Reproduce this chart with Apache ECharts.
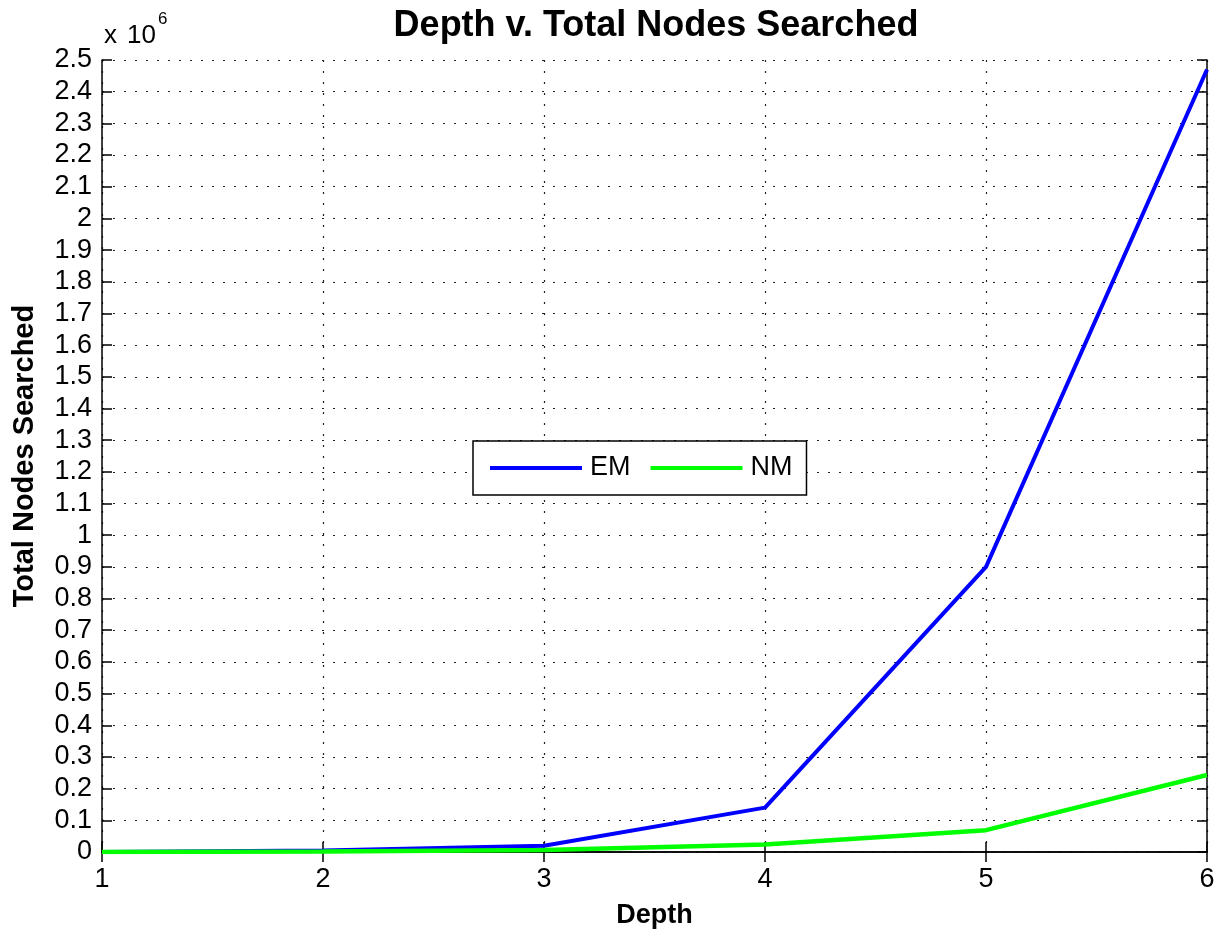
<!DOCTYPE html>
<html>
<head>
<meta charset="utf-8">
<script src="https://cdn.jsdelivr.net/npm/echarts@6/dist/echarts.min.js"></script>
<style>
html,body{margin:0;padding:0;background:#fff;}
#chart{width:1225px;height:935px;}
</style>
</head>
<body>
<div id="chart"></div>
<script>
// Data
var depths = [1, 2, 3, 4, 5, 6];
var emNodes = [30, 5000, 20000, 140000, 900000, 2470000];
var nmNodes = [10, 1500, 6000, 24000, 69000, 243000];
var seriesNames = ['EM', 'NM'];
var titleText = 'Depth v. Total Nodes Searched';
var xName = 'Depth';
var yName = 'Total Nodes Searched';

var FONT = '"Liberation Sans", Arial, Helvetica, sans-serif';
var chart = echarts.init(document.getElementById('chart'));

function pairs(xs, ys) { return xs.map(function (x, i) { return [x, ys[i]]; }); }

var splitStyle = { show: true, lineStyle: { color: '#222', width: 1.2, type: [2, 9] } };
var axisLineStyle = { show: true, lineStyle: { color: '#000', width: 1.5 } };
var tickStyle = { show: true, inside: true, length: 10, lineStyle: { color: '#000', width: 1.5 } };

var option = {
  backgroundColor: '#fff',
  animation: false,
  title: {
    text: titleText,
    left: 651, top: 3, textAlign: 'center',
    textStyle: { fontFamily: FONT, fontSize: 36, fontWeight: 'bold', color: '#000' }
  },
  grid: { left: 102, right: 18, top: 60, bottom: 83, containLabel: false, outerBoundsMode: 'none' },
  legend: {
    data: seriesNames,
    left: 473, top: 441,
    orient: 'horizontal',
    icon: 'rect',
    itemWidth: 92, itemHeight: 4, itemGap: 20,
    padding: [12, 14, 12, 17],
    borderColor: '#000', borderWidth: 1.5,
    backgroundColor: '#fff',
    textStyle: { fontFamily: FONT, fontSize: 27, color: '#000', lineHeight: 30, padding: [0, 0, 0, 3] }
  },
  xAxis: [{
    type: 'value', min: 1, max: 6, interval: 1,
    name: xName, nameLocation: 'middle', nameGap: 50,
    nameTextStyle: { fontFamily: FONT, fontSize: 27, fontWeight: 'bold', color: '#000' },
    axisLine: axisLineStyle, axisTick: tickStyle,
    axisLabel: { fontFamily: FONT, fontSize: 27, color: '#000', margin: 14 },
    splitLine: splitStyle
  }, {
    type: 'value', min: 1, max: 6, interval: 1, position: 'top',
    axisLine: axisLineStyle, axisTick: tickStyle,
    axisLabel: { show: false }, splitLine: { show: false }
  }],
  yAxis: [{
    type: 'value', min: 0, max: 2500000, interval: 100000,
    name: yName, nameLocation: 'middle', nameGap: 63, nameRotate: 90,
    nameTextStyle: { fontFamily: FONT, fontSize: 29, fontWeight: 'bold', color: '#000' },
    axisLine: axisLineStyle, axisTick: tickStyle,
    axisLabel: {
      fontFamily: FONT, fontSize: 27, color: '#000', margin: 10,
      formatter: function (v) { return String(Number((v / 1e6).toFixed(1))); }
    },
    splitLine: splitStyle
  }, {
    type: 'value', min: 0, max: 2500000, interval: 100000, position: 'right',
    axisLine: axisLineStyle, axisTick: tickStyle,
    axisLabel: { show: false }, splitLine: { show: false }
  }],
  graphic: [
    { type: 'text', left: 104, top: 23, style: { text: 'x', font: '26px ' + FONT, fill: '#000' } },
    { type: 'text', left: 127, top: 23, style: { text: '10', font: '26px ' + FONT, fill: '#000' } },
    { type: 'text', left: 158, top: 11, style: { text: '6', font: '17px ' + FONT, fill: '#000' } }
  ],
  series: [{
    name: seriesNames[0], type: 'line', xAxisIndex: 0, yAxisIndex: 0,
    data: pairs(depths, emNodes), symbol: 'none', z: 3,
    lineStyle: { color: '#0000ff', width: 4 }, itemStyle: { color: '#0000ff' }
  }, {
    name: seriesNames[1], type: 'line', xAxisIndex: 0, yAxisIndex: 0,
    data: pairs(depths, nmNodes), symbol: 'none', z: 4,
    lineStyle: { color: '#00ff00', width: 4.5 }, itemStyle: { color: '#00ff00' }
  }]
};
chart.setOption(option);
</script>
</body>
</html>
